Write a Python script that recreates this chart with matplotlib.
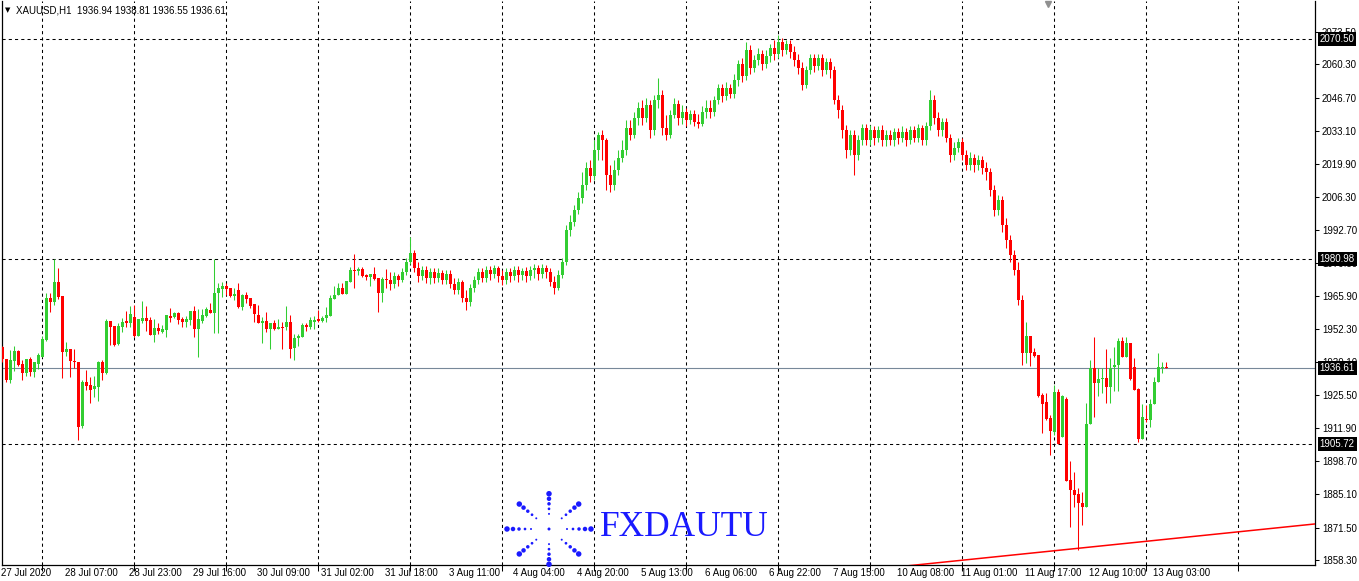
import matplotlib
matplotlib.use("Agg")
import matplotlib.pyplot as plt
import matplotlib.transforms as mtransforms
import numpy as np

# XAUUSD H1 candles, 27 Jul 2020 -> 13 Aug 2020
opens = [
    1945.1, 1940.2, 1931.7, 1939.4, 1943.5, 1938.2, 1934.5, 1940.2, 1934.9, 1938.2,
    1941.0, 1948.0, 1965.1, 1963.5, 1971.6, 1965.9, 1943.1, 1944.3, 1939.4, 1939.0,
    1912.9, 1930.8, 1929.6, 1928.0, 1928.8, 1939.0, 1934.5, 1955.7, 1953.7, 1946.3,
    1953.3, 1955.7, 1954.9, 1957.4, 1949.6, 1955.7, 1956.9, 1956.1, 1950.0, 1952.9,
    1951.2, 1952.0, 1957.8, 1957.4, 1959.0, 1956.5, 1955.3, 1956.1, 1959.8, 1952.4,
    1955.7, 1957.8, 1960.2, 1959.0, 1967.1, 1968.8, 1970.0, 1969.2, 1965.9, 1968.3,
    1961.4, 1966.3, 1965.1, 1962.6, 1958.2, 1954.9, 1955.7, 1952.4, 1954.9, 1952.4,
    1953.3, 1953.3, 1955.3, 1944.7, 1948.8, 1949.2, 1954.1, 1953.3, 1955.3, 1956.5,
    1955.7, 1956.9, 1957.8, 1964.7, 1966.3, 1969.2, 1966.7, 1971.6, 1976.5, 1976.1,
    1976.9, 1974.5, 1973.6, 1974.9, 1973.2, 1967.1, 1972.8, 1972.4, 1970.8, 1974.0,
    1972.4, 1975.7, 1979.8, 1983.4, 1977.3, 1974.0, 1976.5, 1973.2, 1975.7, 1973.2,
    1975.3, 1972.4, 1974.9, 1970.8, 1968.3, 1971.6, 1965.1, 1963.5, 1969.2, 1972.4,
    1975.7, 1973.2, 1976.5, 1974.9, 1977.3, 1974.0, 1972.4, 1975.7, 1974.0, 1976.5,
    1974.5, 1976.1, 1974.0, 1976.5, 1977.3, 1974.9, 1977.3, 1975.7, 1971.6, 1969.2,
    1974.5, 1979.8, 1992.8, 1996.1, 2001.0, 2005.8, 2011.1, 2018.1, 2014.8, 2025.4,
    2031.5, 2029.5, 2015.2, 2011.1, 2017.3, 2022.1, 2025.4, 2034.4, 2031.5, 2038.4,
    2042.5, 2038.4, 2043.7, 2033.6, 2045.8, 2047.8, 2034.4, 2031.5, 2039.7, 2044.2,
    2038.4, 2040.9, 2037.6, 2040.1, 2036.8, 2036.0, 2040.9, 2042.5, 2040.9, 2045.8,
    2050.7, 2047.4, 2050.7, 2048.2, 2053.9, 2060.4, 2055.6, 2066.2, 2058.8, 2062.1,
    2064.5, 2060.4, 2063.7, 2067.0, 2064.5, 2069.4, 2066.2, 2068.6, 2065.3, 2062.1,
    2058.8, 2051.9, 2058.0, 2062.9, 2059.6, 2062.9, 2058.0, 2061.3, 2058.0, 2045.8,
    2041.7, 2033.6, 2025.4, 2031.5, 2023.4, 2029.5, 2034.4, 2029.5, 2033.6, 2030.3,
    2033.6, 2029.5, 2031.5, 2029.5, 2032.7, 2030.3, 2032.7, 2029.5, 2033.6, 2030.3,
    2034.4, 2029.5, 2035.2, 2045.8, 2038.4, 2033.6, 2036.8, 2030.3, 2023.4, 2026.2,
    2028.7, 2023.4, 2019.3, 2022.1, 2019.3, 2021.3, 2018.1, 2016.4, 2009.1, 2001.0,
    2005.0, 1994.8, 1988.7, 1982.6, 1976.5, 1964.3, 1942.7, 1949.6, 1943.1, 1941.9,
    1925.5, 1922.7, 1916.2, 1910.5, 1926.8, 1908.4, 1923.9, 1890.9, 1886.8, 1885.2,
    1881.5, 1879.9, 1913.7, 1936.5, 1930.4, 1932.1, 1932.5, 1928.8, 1936.9, 1937.8,
    1947.6, 1941.0, 1946.8, 1937.0, 1928.0, 1907.6, 1915.8, 1915.4, 1921.9, 1930.8,
    1936.5, 1936.94,
]
highs = [
    1945.4, 1940.2, 1943.9, 1945.5, 1943.9, 1939.8, 1940.2, 1941.0, 1939.0, 1942.7,
    1949.6, 1967.1, 1967.1, 1981.0, 1977.3, 1965.9, 1947.2, 1944.3, 1944.3, 1939.0,
    1931.7, 1935.7, 1932.9, 1933.3, 1939.4, 1939.8, 1956.5, 1955.7, 1953.7, 1954.9,
    1956.9, 1959.8, 1961.8, 1962.2, 1956.5, 1963.9, 1961.8, 1957.4, 1956.5, 1954.9,
    1954.1, 1958.2, 1961.0, 1959.4, 1959.4, 1957.4, 1957.8, 1959.8, 1961.8, 1960.6,
    1960.6, 1961.4, 1963.1, 1981.0, 1971.2, 1971.6, 1971.2, 1969.2, 1969.2, 1971.2,
    1966.7, 1967.5, 1965.1, 1962.6, 1962.2, 1957.4, 1959.4, 1954.9, 1956.1, 1956.5,
    1955.3, 1961.8, 1958.2, 1950.4, 1950.4, 1954.9, 1954.9, 1957.4, 1957.8, 1960.2,
    1957.8, 1961.4, 1966.3, 1970.0, 1971.2, 1971.2, 1972.0, 1977.7, 1983.0, 1977.7,
    1977.7, 1974.9, 1974.9, 1977.7, 1973.2, 1973.6, 1976.9, 1975.7, 1975.7, 1974.9,
    1977.3, 1981.4, 1989.9, 1984.6, 1979.8, 1978.1, 1978.1, 1977.3, 1977.3, 1977.3,
    1976.5, 1976.5, 1976.5, 1973.2, 1973.2, 1972.4, 1968.3, 1970.8, 1974.0, 1977.3,
    1977.3, 1978.1, 1978.1, 1978.5, 1978.1, 1976.5, 1977.3, 1977.3, 1978.1, 1978.1,
    1977.3, 1977.7, 1978.1, 1978.9, 1978.5, 1978.9, 1978.5, 1977.3, 1974.0, 1976.5,
    1981.4, 1994.8, 1998.9, 2003.0, 2008.3, 2016.4, 2020.5, 2021.3, 2029.5, 2032.7,
    2033.6, 2030.3, 2019.3, 2021.3, 2025.4, 2029.5, 2037.6, 2037.6, 2040.9, 2045.0,
    2045.8, 2046.6, 2045.8, 2047.8, 2054.8, 2049.9, 2039.7, 2041.7, 2046.6, 2045.8,
    2043.7, 2042.5, 2041.7, 2041.7, 2040.1, 2043.3, 2045.8, 2045.8, 2047.4, 2052.3,
    2052.3, 2053.1, 2052.3, 2056.4, 2062.1, 2062.9, 2069.4, 2068.2, 2064.1, 2067.0,
    2066.2, 2066.2, 2068.6, 2070.2, 2072.3, 2071.1, 2070.2, 2070.2, 2067.8, 2064.5,
    2061.3, 2059.6, 2064.5, 2064.5, 2064.5, 2064.5, 2062.9, 2062.9, 2059.6, 2047.8,
    2043.7, 2035.6, 2033.6, 2033.6, 2031.5, 2036.0, 2036.0, 2035.6, 2035.2, 2035.2,
    2035.6, 2033.6, 2033.6, 2034.4, 2034.4, 2035.2, 2034.4, 2035.2, 2035.2, 2036.0,
    2035.6, 2036.8, 2049.9, 2047.8, 2040.9, 2038.4, 2038.4, 2031.9, 2028.7, 2030.3,
    2030.3, 2025.4, 2024.6, 2023.8, 2023.4, 2023.0, 2020.5, 2018.1, 2011.1, 2007.1,
    2006.7, 1997.7, 1990.8, 1984.6, 1979.8, 1966.3, 1955.3, 1949.6, 1944.7, 1941.9,
    1926.4, 1926.4, 1917.4, 1929.6, 1928.0, 1925.5, 1924.7, 1898.6, 1894.2, 1887.7,
    1886.0, 1922.3, 1939.8, 1949.2, 1936.5, 1936.5, 1944.3, 1940.6, 1945.1, 1948.8,
    1949.2, 1949.2, 1946.8, 1940.6, 1928.4, 1921.9, 1921.5, 1923.9, 1932.9, 1942.7,
    1939.0, 1938.81,
]
lows = [
    1939.0, 1930.8, 1930.4, 1935.3, 1937.4, 1931.7, 1933.3, 1933.3, 1932.9, 1936.1,
    1941.0, 1947.6, 1959.4, 1962.2, 1964.7, 1932.5, 1941.4, 1932.9, 1936.5, 1907.2,
    1912.1, 1927.6, 1922.3, 1924.7, 1923.1, 1931.7, 1934.1, 1945.9, 1945.5, 1945.9,
    1951.2, 1953.3, 1953.3, 1949.2, 1949.6, 1954.9, 1951.6, 1950.0, 1947.2, 1950.4,
    1950.8, 1949.2, 1955.3, 1956.9, 1954.5, 1953.3, 1953.3, 1954.1, 1949.2, 1941.0,
    1954.9, 1957.4, 1959.0, 1950.8, 1950.8, 1965.5, 1966.3, 1965.5, 1964.3, 1961.0,
    1960.2, 1963.1, 1961.0, 1955.3, 1954.9, 1946.8, 1951.2, 1944.3, 1952.0, 1952.4,
    1944.3, 1952.0, 1940.6, 1939.8, 1945.5, 1949.2, 1951.6, 1952.4, 1952.4, 1955.3,
    1955.3, 1955.3, 1957.8, 1964.7, 1966.3, 1966.7, 1966.7, 1971.6, 1969.2, 1974.5,
    1973.6, 1972.4, 1970.0, 1972.4, 1959.4, 1963.5, 1969.2, 1968.3, 1969.2, 1970.0,
    1971.6, 1974.5, 1979.0, 1975.7, 1971.6, 1972.4, 1971.2, 1970.8, 1971.2, 1971.6,
    1970.8, 1970.8, 1969.2, 1966.7, 1966.7, 1963.5, 1960.2, 1961.8, 1967.5, 1970.8,
    1971.6, 1971.6, 1972.4, 1973.2, 1971.6, 1970.4, 1970.8, 1971.6, 1972.4, 1971.6,
    1972.4, 1971.6, 1972.4, 1973.2, 1972.4, 1973.2, 1973.2, 1970.0, 1966.7, 1968.3,
    1973.2, 1978.5, 1990.4, 1994.4, 1999.3, 2003.8, 2009.1, 2012.4, 2013.2, 2021.3,
    2021.3, 2009.1, 2008.3, 2009.1, 2015.2, 2020.5, 2023.4, 2029.5, 2030.3, 2035.6,
    2035.6, 2036.8, 2030.3, 2031.5, 2042.5, 2031.5, 2029.5, 2030.3, 2038.4, 2035.6,
    2036.0, 2035.2, 2036.0, 2035.2, 2034.4, 2035.2, 2038.4, 2038.4, 2039.3, 2044.2,
    2045.0, 2045.8, 2046.6, 2046.6, 2051.5, 2053.1, 2053.9, 2056.4, 2057.2, 2060.0,
    2058.0, 2058.8, 2061.3, 2062.1, 2062.9, 2063.7, 2064.5, 2062.9, 2059.6, 2056.4,
    2049.9, 2050.7, 2056.4, 2057.2, 2058.0, 2055.6, 2056.4, 2054.8, 2044.2, 2038.4,
    2030.3, 2022.1, 2023.4, 2015.2, 2021.3, 2027.4, 2027.4, 2027.4, 2027.4, 2028.7,
    2027.0, 2027.0, 2027.4, 2027.0, 2027.9, 2028.7, 2027.0, 2027.9, 2028.7, 2028.7,
    2027.4, 2027.4, 2033.6, 2036.0, 2031.1, 2031.1, 2028.7, 2020.5, 2021.3, 2024.6,
    2021.3, 2017.3, 2017.3, 2016.4, 2017.3, 2015.6, 2013.2, 2006.7, 1998.5, 1998.9,
    1992.0, 1985.5, 1979.8, 1974.5, 1962.2, 1937.8, 1938.6, 1937.4, 1941.0, 1924.7,
    1910.1, 1915.4, 1901.1, 1909.3, 1905.6, 1908.4, 1890.5, 1871.7, 1879.9, 1862.4,
    1872.6, 1879.9, 1913.7, 1916.6, 1925.1, 1926.4, 1922.3, 1922.3, 1927.2, 1927.2,
    1941.0, 1941.0, 1931.7, 1927.6, 1906.4, 1907.6, 1914.5, 1912.5, 1921.9, 1930.8,
    1934.5, 1936.55,
]
closes = [
    1940.2, 1931.7, 1939.8, 1943.5, 1937.8, 1934.5, 1940.2, 1934.9, 1939.0, 1941.9,
    1948.4, 1965.1, 1963.5, 1971.6, 1965.5, 1943.1, 1944.3, 1939.4, 1939.0, 1912.5,
    1930.8, 1929.2, 1927.6, 1929.2, 1939.0, 1934.5, 1955.7, 1953.3, 1945.9, 1953.7,
    1955.3, 1954.9, 1958.6, 1949.6, 1956.5, 1956.9, 1955.7, 1950.0, 1952.9, 1951.6,
    1952.4, 1958.2, 1956.9, 1959.0, 1956.1, 1955.3, 1956.5, 1959.8, 1952.4, 1956.5,
    1958.2, 1960.6, 1959.0, 1967.1, 1969.2, 1970.0, 1968.8, 1965.9, 1966.7, 1961.4,
    1966.3, 1964.7, 1961.8, 1958.6, 1954.9, 1955.7, 1952.4, 1954.9, 1952.4, 1953.3,
    1952.9, 1955.3, 1944.3, 1948.8, 1949.6, 1954.1, 1953.3, 1956.1, 1956.1, 1955.7,
    1956.9, 1958.2, 1965.1, 1966.3, 1969.2, 1966.7, 1972.0, 1976.5, 1976.1, 1976.9,
    1974.0, 1973.6, 1974.9, 1972.8, 1967.1, 1972.8, 1972.4, 1970.8, 1974.0, 1972.4,
    1975.7, 1979.8, 1983.4, 1977.3, 1974.0, 1976.5, 1973.2, 1975.7, 1973.2, 1975.3,
    1972.4, 1974.9, 1970.8, 1968.3, 1971.6, 1965.1, 1963.5, 1969.2, 1972.4, 1975.7,
    1973.2, 1976.5, 1974.9, 1977.3, 1974.0, 1972.4, 1975.7, 1974.0, 1976.5, 1974.5,
    1976.1, 1974.0, 1976.5, 1977.3, 1974.9, 1977.3, 1975.7, 1971.6, 1969.2, 1974.5,
    1979.8, 1992.8, 1996.1, 2001.0, 2005.8, 2011.1, 2018.1, 2014.8, 2025.4, 2031.5,
    2029.5, 2015.2, 2011.1, 2017.3, 2022.1, 2025.4, 2034.4, 2031.5, 2038.4, 2042.5,
    2038.4, 2043.7, 2033.6, 2045.8, 2047.8, 2034.4, 2031.5, 2039.7, 2044.2, 2038.4,
    2040.9, 2037.6, 2040.1, 2036.8, 2036.0, 2040.9, 2042.5, 2040.9, 2045.8, 2050.7,
    2047.4, 2050.7, 2048.2, 2053.9, 2060.4, 2055.6, 2066.2, 2058.8, 2062.1, 2064.5,
    2060.4, 2063.7, 2067.0, 2064.5, 2069.4, 2066.2, 2068.6, 2065.3, 2062.1, 2058.8,
    2051.9, 2058.0, 2062.9, 2059.6, 2062.9, 2058.0, 2061.3, 2058.0, 2045.8, 2041.7,
    2033.6, 2025.4, 2031.5, 2023.4, 2029.5, 2034.4, 2029.5, 2033.6, 2030.3, 2033.6,
    2029.5, 2031.5, 2029.5, 2032.7, 2030.3, 2032.7, 2029.5, 2033.6, 2030.3, 2034.4,
    2029.5, 2035.2, 2045.8, 2038.4, 2033.6, 2036.8, 2030.3, 2023.4, 2026.2, 2028.7,
    2023.4, 2019.3, 2022.1, 2019.3, 2021.3, 2018.1, 2016.4, 2009.1, 2001.0, 2005.0,
    1994.8, 1988.7, 1982.6, 1976.5, 1964.3, 1942.7, 1949.6, 1942.7, 1941.4, 1925.1,
    1921.9, 1915.8, 1910.9, 1926.8, 1905.6, 1925.1, 1890.5, 1886.8, 1884.8, 1881.5,
    1879.9, 1913.7, 1936.5, 1930.4, 1932.1, 1932.5, 1928.8, 1936.5, 1937.8, 1947.6,
    1941.0, 1946.8, 1932.1, 1927.6, 1907.6, 1916.6, 1915.4, 1921.9, 1930.8, 1936.9,
    1936.9, 1936.61,
]

price_ticks = [2073.50, 2060.30, 2046.70, 2033.10, 2019.90, 2006.30, 1992.70, 1979.30,
               1965.90, 1952.30, 1939.10, 1925.50, 1911.90, 1898.70, 1885.10, 1871.50, 1858.30]
time_labels = ["27 Jul 2020", "28 Jul 07:00", "28 Jul 23:00", "29 Jul 16:00", "30 Jul 09:00",
               "31 Jul 02:00", "31 Jul 18:00", "3 Aug 11:00", "4 Aug 04:00", "4 Aug 20:00",
               "5 Aug 13:00", "6 Aug 06:00", "6 Aug 22:00", "7 Aug 15:00", "10 Aug 08:00",
               "11 Aug 01:00", "11 Aug 17:00", "12 Aug 10:00", "13 Aug 03:00"]
time_label_bars = [0, 16, 32, 48, 64, 80, 96, 112, 128, 144, 160, 176, 192, 208, 224,
                   240, 256, 272, 288]
grid_bars = [10, 33, 56, 79, 102, 125, 148, 171, 194, 217, 240, 263, 286, 309]
levels = [2070.50, 1980.98, 1905.72]
bid = 1936.61
trend_x = [225, 330]
trend_y = [1855.7, 1873.3]

plt.rcParams["font.family"] = ["Liberation Sans", "DejaVu Sans"]

W, H = 1359, 581
fig = plt.figure(figsize=(W / 100, H / 100), dpi=100)
ax = fig.add_axes([2 / W, 16 / H, 1313 / W, 564 / H])
ax.set_xlim(-0.075, 328.175)
ax.set_ylim(1856.26, 2086.14)

# candles
x = np.arange(len(closes))
o = np.array(opens)
c = np.array(closes)
up = c >= o
cols = np.where(up, "#32CD32", "#FF0000")
ax.vlines(x, lows, highs, colors=cols, linewidth=0.75, zorder=3)
body_h = np.maximum(np.abs(c - o), 0.4)
ax.bar(x, body_h, bottom=np.minimum(o, c), width=0.75, color=cols, linewidth=0, zorder=3)

# grid and level lines
for g in grid_bars:
    ax.axvline(g, color="black", lw=0.75, ls=(0, (3, 3)), zorder=1)
for lv in levels:
    ax.axhline(lv, color="black", lw=0.75, ls=(0, (3, 3)), zorder=1)
ax.axhline(bid, color="#778899", lw=0.8, zorder=2)

# trend line
ax.plot(trend_x, trend_y, color="red", lw=1.1, zorder=4)

# axes styling
for s in ax.spines.values():
    s.set_color("black")
    s.set_linewidth(0.9)
ax.spines["top"].set_visible(False)
ax.yaxis.tick_right()
ax.set_yticks(price_ticks)
ax.set_yticklabels([f"{p:.2f}" for p in price_ticks])
ax.tick_params(axis="y", length=3, width=0.75, pad=2, labelsize=7, colors="black")
ax.set_xticks(grid_bars)
ax.set_xticklabels([])
ax.tick_params(axis="x", length=4, width=0.75)

# time labels
tb = mtransforms.blended_transform_factory(ax.transData, ax.transAxes)
for b, lab in zip(time_label_bars, time_labels):
    ax.text(b - 0.3, -0.006, lab, transform=tb, ha="left", va="top", fontsize=7, clip_on=False)

# price boxes on the right axis
ty = mtransforms.blended_transform_factory(ax.transAxes, ax.transData)
for lv in levels + [bid]:
    ax.text(1.0035, lv, f"{lv:.2f}", transform=ty, ha="left", va="center", fontsize=7,
            color="white", zorder=6, clip_on=False,
            bbox=dict(boxstyle="square,pad=0.2", fc="black", ec="none"))

# header
ax.text(0.0025, 0.983, "\u25BC", transform=ax.transAxes, fontsize=5, family="DejaVu Sans",
        va="center", ha="left")
ax.text(0.0105, 0.983,
        f"XAUUSD,H1  {opens[-1]:.2f} {highs[-1]:.2f} {lows[-1]:.2f} {closes[-1]:.2f}",
        transform=ax.transAxes, fontsize=7, va="center", ha="left")
ax.plot([0.797], [0.995], marker="v", color="#909090", ms=4, transform=ax.transAxes,
        clip_on=False)

# watermark logo
cx, cy = 549, 529
blue = "#1a1aff"
radii = [42, 36, 30, 24, 18]
sizes = [5.5, 4.5, 3.5, 2.7, 2]
px, py, ps = [cx], [cy], [3]
for k in range(8):
    a = np.deg2rad(45 * k)
    for r, d in zip(radii, sizes):
        px.append(cx + r * np.cos(a))
        py.append(cy - 0.84 * r * np.sin(a))
        ps.append(d)
logo = fig.add_axes([0, 0, 1, 1], facecolor="none")
logo.set_xlim(0, W)
logo.set_ylim(H, 0)
logo.axis("off")
logo.scatter(px, py, s=[(d * 0.72) ** 2 for d in ps], color=blue, linewidths=0)
logo.text(600, 528, "FXDAUTU", family="Liberation Serif", fontsize=25.5, color=blue,
          ha="left", va="center")

fig.savefig("out.png", dpi=100, facecolor="white")
